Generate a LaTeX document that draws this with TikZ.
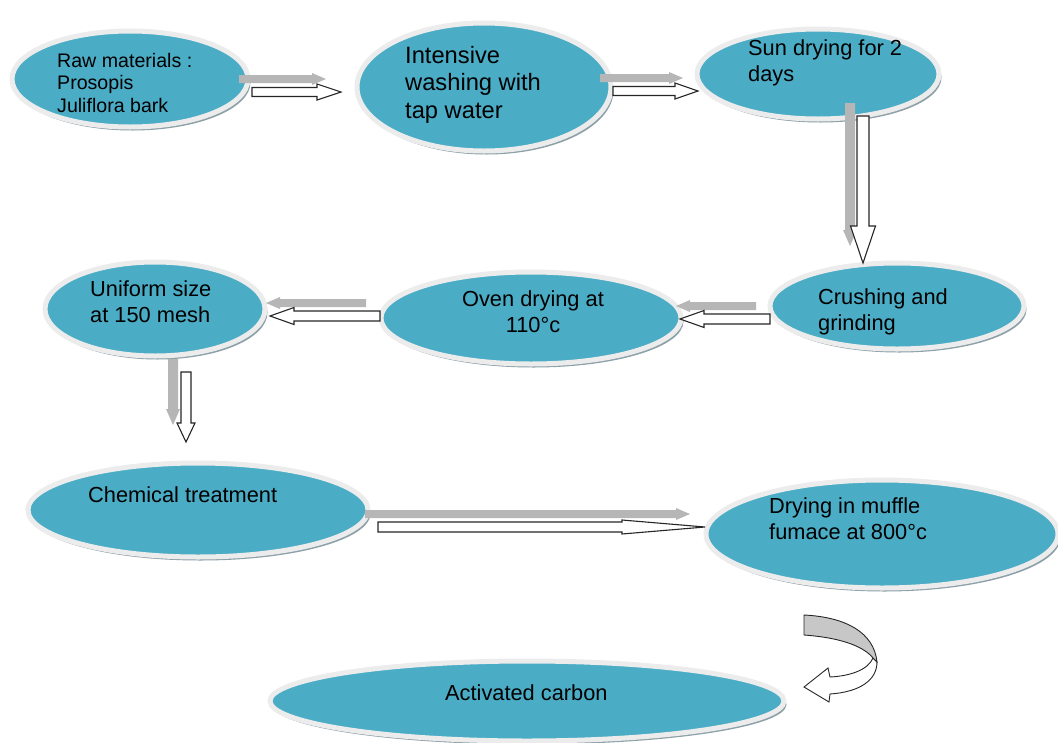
\documentclass[tikz,border=0pt]{standalone}
\usepackage{fontspec}
\setmainfont{Liberation Sans}
\usetikzlibrary{shapes.geometric}
\usetikzlibrary{shadows}

\definecolor{stagefill}{RGB}{75,172,198}
\definecolor{stagehalo}{RGB}{236,236,236}
\definecolor{stageshadow}{RGB}{140,160,168}
\definecolor{arrowshade}{RGB}{182,182,182}

% block arrows: #1 start, #2 end, #3 shaft half width, #4 head half width, #5 head length
\newcommand{\flowright}[5]{%
	\coordinate (tip) at (#2 |- #1);
	\fill[arrowshade] ([shift={(-13,-17)}]#1) -- ([shift={(-29,-17)}]tip) -- ([shift={(-29,-19)}]tip) -- ([shift={(-15,-13)}]tip) -- ([shift={(-29,-7)}]tip) -- ([shift={(-29,-9)}]tip) -- ([shift={(-13,-9)}]#1) -- cycle;
	\draw[flow] ([shift={(0,-#3)}]#1) -- ([shift={(-#5,-#3)}]tip) -- ([shift={(-#5,-#4)}]tip) -- (tip) -- ([shift={(-#5,#4)}]tip) -- ([shift={(-#5,#3)}]tip) -- ([shift={(0,#3)}]#1) -- cycle;}
\newcommand{\flowleft}[5]{%
	\coordinate (tip) at (#2 |- #1);
	\fill[arrowshade] ([shift={(-14,-17)}]#1) -- ([shift={(10,-17)}]tip) -- ([shift={(10,-19)}]tip) -- ([shift={(-4,-13)}]tip) -- ([shift={(10,-7)}]tip) -- ([shift={(10,-9)}]tip) -- ([shift={(-14,-9)}]#1) -- cycle;
	\draw[flow] ([shift={(0,-#3)}]#1) -- ([shift={(#5,-#3)}]tip) -- ([shift={(#5,-#4)}]tip) -- (tip) -- ([shift={(#5,#4)}]tip) -- ([shift={(#5,#3)}]tip) -- ([shift={(0,#3)}]#1) -- cycle;}
\newcommand{\flowdown}[5]{%
	\coordinate (tip) at (#1 |- #2);
	\fill[arrowshade] ([shift={(-18,-13)}]#1) -- ([shift={(-18,-33)}]tip) -- ([shift={(-20,-33)}]tip) -- ([shift={(-13,-17)}]tip) -- ([shift={(-6,-33)}]tip) -- ([shift={(-8,-33)}]tip) -- ([shift={(-8,-13)}]#1) -- cycle;
	\draw[flow] ([shift={(-#3,0)}]#1) -- ([shift={(-#3,-#5)}]tip) -- ([shift={(-#4,-#5)}]tip) -- (tip) -- ([shift={(#4,-#5)}]tip) -- ([shift={(#3,-#5)}]tip) -- ([shift={(#3,0)}]#1) -- cycle;}

\begin{document}
\begin{tikzpicture}[x=1pt,y=-1pt]
		\tikzstyle{stage} = [ellipse, fill=stagefill, draw=stagehalo, line width=5, outer sep=0, drop shadow={shadow xshift=2.5pt, shadow yshift=-3.5pt, fill=stageshadow, opacity=1}]
		\tikzstyle{stagetext} = [anchor=base west, align=left, inner sep=0, font=\fontsize{21.8}{26}\selectfont]
		\tikzstyle{flow} = [fill=white, draw=black!85, line width=1.1]
		\useasboundingbox (0,0) rectangle (1058,742);

		\node [stage, minimum width=236, minimum height=96] (raw) at (130,79) {};
		\node [stage, minimum width=254, minimum height=128] (wash) at (484,87) {};
		\node [stage, minimum width=242, minimum height=90] (sun) at (818,74) {};
		\node [stage, minimum width=254, minimum height=86] (crush) at (897,306) {};
		\node [stage, minimum width=300, minimum height=92] (oven) at (531,318) {};
		\node [stage, minimum width=220, minimum height=94] (uniform) at (155,309) {};
		\node [stage, minimum width=340, minimum height=94] (chem) at (198,510) {};
		\node [stage, minimum width=352, minimum height=108] (muffle) at (882,534) {};
		\node [stage, minimum width=514, minimum height=80] (carbon) at (527,701) {};

		% texts sit on the baseline of their last line
		\node [stagetext, font=\fontsize{19.6}{22.5}\selectfont] (rawtext) at (57,112) {Raw materials :\\Prosopis\\Juliflora bark};
		\node [stagetext, font=\fontsize{23.7}{27.5}\selectfont] (washtext) at (405,118) {Intensive\\washing with\\tap water};
		\node [stagetext] (suntext) at (748,81) {Sun drying for 2\\days};
		\node [stagetext] (crushtext) at (818,330) {Crushing and\\grinding};
		\node [stagetext, anchor=base, align=center] (oventext) at (533,332) {Oven drying at\\110°c};
		\node [stagetext] (uniformtext) at (90,322) {Uniform size\\at 150 mesh};
		\node [stagetext] (chemtext) at (88,502) {Chemical treatment};
		\node [stagetext] (muffletext) at (769,539) {Drying in muffle\\fumace at 800°c};
		\node [stagetext] (carbontext) at (445,700) {Activated carbon};

		% start and end points of the block arrows
		\coordinate (a1) at ([shift={(4,13)}]raw.east);
		\coordinate (b1) at ([shift={(-16,0)}]wash.west);
		\coordinate (a2) at ([shift={(2,4)}]wash.east);
		\coordinate (b2) at ([shift={(1,0)}]sun.west);
		\coordinate (a3) at ([shift={(45,-3)}]sun.south);
		\coordinate (b3) at (crush.north);
		\coordinate (a4) at ([shift={(0,13)}]crush.west);
		\coordinate (b4) at ([shift={(-1,0)}]oven.east);
		\coordinate (a5) at ([shift={(-1,-2)}]oven.west);
		\coordinate (b5) at ([shift={(5,0)}]uniform.east);
		\coordinate (a6) at ([shift={(31,16)}]uniform.south);
		\coordinate (b6) at ([shift={(0,-21)}]chem.north);
		\coordinate (a7) at ([shift={(10,17)}]chem.east);
		\coordinate (b7) at ([shift={(-1,0)}]muffle.west);

		\flowright{a1}{b1}{4.5}{8}{24}
		\flowright{a2}{b2}{4.5}{8}{23}
		\flowdown{a3}{b3}{6}{12.5}{37}
		\flowleft{a4}{b4}{5}{8.5}{24}
		\flowleft{a5}{b5}{5}{8.5}{24}
		\flowdown{a6}{b6}{5}{9}{19}
		\flowright{a7}{b7}{5}{7}{83}

		% curved arrow from the furnace down to the product
		\filldraw[fill=white, draw=black!85, line width=0.9] (877,662) .. controls (877,680) and (860,692) .. (830,694) -- (829,702) -- (804,687) -- (828,668) -- (830,677) .. controls (850,676) and (868,670) .. (873,658) -- cycle;
		\filldraw[fill=black!22, draw=black!85, line width=0.9] (804,615) .. controls (845,617) and (874,632) .. (877,662) -- (873,658) .. controls (865,648) and (845,638) .. (804,635) -- cycle;
	\end{tikzpicture}
\end{document}
